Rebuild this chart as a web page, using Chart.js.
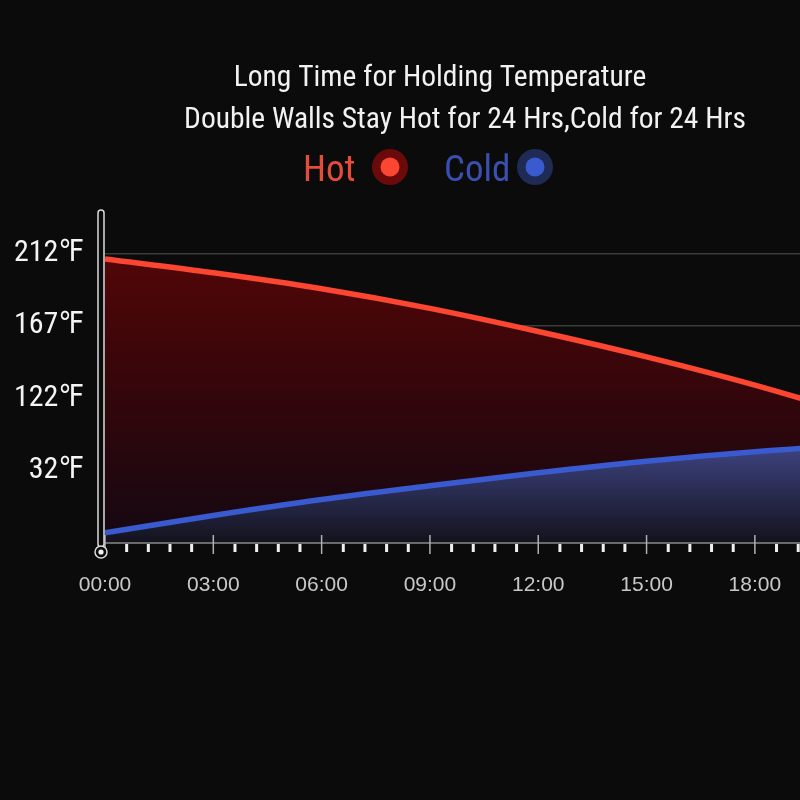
<!DOCTYPE html>
<html>
<head>
<meta charset="utf-8">
<script src="https://cdn.jsdelivr.net/npm/chart.js@4.4.1/dist/chart.umd.min.js"></script>
<style>
  html, body { margin: 0; padding: 0; background: #0b0b0b; overflow: hidden; }
  #wrap { width: 800px; height: 800px; }
</style>
</head>
<body>
<div id="wrap"><canvas id="chart" width="800" height="800"></canvas></div>
<script>
// time in minutes since 00:00
const times = [0, 180, 360, 540, 720, 900, 1080, 1260];
// values are positions on the (non linear) temperature axis, 0 = axis line
const hotValues = [3.92, 3.73, 3.51, 3.24, 2.92, 2.57, 2.18, 1.74];
const coldValues = [0.14, 0.38, 0.60, 0.79, 0.97, 1.13, 1.26, 1.36];
const yTickLabels = ['', '32℉', '122℉', '167℉', '212℉'];
const seriesNames = ['Hot', 'Cold'];
const titleText = 'Long Time for Holding Temperature';
const subtitleText = 'Double Walls Stay Hot for 24 Hrs,Cold for 24 Hrs';

const NARROW = '"Liberation Sans Narrow", "Roboto Condensed", "DejaVu Sans Condensed", sans-serif';
const BG = '#0b0b0b';

function pad(n) { return String(n).padStart(2, '0'); }

function hotFill(ctx) {
    const area = ctx.chart.chartArea;
    if (!area) return null;
    const g = ctx.chart.ctx.createLinearGradient(0, area.top, 0, area.bottom);
    g.addColorStop(0, '#5c0606');
    g.addColorStop(0.5, '#37060a');
    g.addColorStop(1, '#140812');
    return g;
}

function coldFill(ctx) {
    const area = ctx.chart.chartArea;
    if (!area) return null;
    const y = ctx.chart.scales.y;
    const g = ctx.chart.ctx.createLinearGradient(0, y.getPixelForValue(Math.max(...coldValues)), 0, area.bottom);
    g.addColorStop(0, 'rgba(62,68,130,1)');
    g.addColorStop(1, '#13121c');
    return g;
}

// titles and the "text + dot" legend
const headerPlugin = {
    id: 'header',
    afterDraw(chart) {
        const c = chart.ctx;
        c.save();
        c.fillStyle = '#f2f2f2';
        c.textAlign = 'center';
        c.textBaseline = 'alphabetic';
        c.font = '29.5px ' + NARROW;
        c.fillText(titleText, 440, 86);
        c.fillText(subtitleText, 465, 128);

        const legendPos = [{ x: 303, dot: 390 }, { x: 444, dot: 535 }];
        const textColors = ['#e44c3c', '#3a4fae'];
        const haloColors = ['#6b0a0a', '#1f2a55'];
        chart.data.datasets.forEach((ds, i) => {
            const p = legendPos[i];
            c.font = '37px ' + NARROW;
            c.textAlign = 'left';
            c.fillStyle = textColors[i];
            c.fillText(ds.label, p.x, 181);
            c.beginPath();
            c.arc(p.dot, 167, 18, 0, Math.PI * 2);
            c.fillStyle = haloColors[i];
            c.fill();
            c.beginPath();
            c.arc(p.dot, 167, 9.5, 0, Math.PI * 2);
            c.fillStyle = ds.borderColor;
            c.fill();
        });
        c.restore();
    }
};

// axis lines, tick marks and the rounded y axis bar
const axisPlugin = {
    id: 'axisDeco',
    afterDatasetsDraw(chart) {
        const c = chart.ctx;
        const area = chart.chartArea;
        const x = chart.scales.x;
        c.save();
        // x axis line
        c.strokeStyle = '#8a8a8a';
        c.lineWidth = 1.5;
        c.beginPath();
        c.moveTo(area.left, area.bottom);
        c.lineTo(area.right, area.bottom);
        c.stroke();
        // ticks
        x.ticks.forEach(t => {
            const px = x.getPixelForValue(t.value);
            if (t.value % 180 === 0) {
                c.strokeStyle = '#b0b0b0';
                c.lineWidth = 1.5;
                c.beginPath();
                c.moveTo(px, area.bottom - 8);
                c.lineTo(px, area.bottom + 11);
                c.stroke();
            } else {
                c.fillStyle = '#f0f0f0';
                c.fillRect(px - 1.5, area.bottom + 1, 3, 8);
            }
        });
        // y axis bar
        const bx = area.left - 4;
        c.fillStyle = BG;
        c.strokeStyle = '#dcdcdc';
        c.lineWidth = 1.5;
        c.beginPath();
        c.roundRect(bx - 3, area.top - 2, 6, area.bottom - area.top + 6, 3);
        c.fill();
        c.stroke();
        // circle at origin
        c.beginPath();
        c.arc(bx, area.bottom + 9, 6, 0, Math.PI * 2);
        c.fillStyle = BG;
        c.fill();
        c.stroke();
        c.beginPath();
        c.arc(bx, area.bottom + 9, 2.6, 0, Math.PI * 2);
        c.fillStyle = '#f0f0f0';
        c.fill();
        c.restore();
    }
};

const ctx = document.getElementById('chart').getContext('2d');

new Chart(ctx, {
    type: 'line',
    data: {
        datasets: [{
            label: seriesNames[0],
            data: times.map((t, i) => ({ x: t, y: hotValues[i] })),
            borderColor: '#fb4632',
            borderWidth: 5.5,
            backgroundColor: hotFill,
            fill: '+1',
            order: 1,
            pointRadius: 0,
            cubicInterpolationMode: 'monotone'
        }, {
            label: seriesNames[1],
            data: times.map((t, i) => ({ x: t, y: coldValues[i] })),
            borderColor: '#3a5ad0',
            borderWidth: 5.5,
            backgroundColor: coldFill,
            fill: 'origin',
            order: 0,
            pointRadius: 0,
            cubicInterpolationMode: 'monotone'
        }]
    },
    options: {
        responsive: false,
        animation: false,
        devicePixelRatio: 1,
        layout: { padding: { top: 212, right: 0, left: 0, bottom: 0 } },
        plugins: { legend: { display: false }, tooltip: { enabled: false }, title: { display: false } },
        scales: {
            x: {
                type: 'linear',
                min: 0,
                max: 1155,
                afterFit: s => { s.height = 257; s.paddingLeft = 0; s.paddingRight = 0; },
                grid: { display: false },
                border: { display: false },
                ticks: {
                    stepSize: 36,
                    autoSkip: false,
                    maxRotation: 0,
                    includeBounds: false,
                    padding: 22,
                    color: '#c8c8c8',
                    font: { family: '"Liberation Sans", Arial, sans-serif', size: 21 },
                    callback: v => (v % 180 === 0 ? pad(v / 60) + ':00' : '')
                }
            },
            y: {
                min: 0,
                max: 4.57,
                afterFit: s => { s.width = 105; },
                border: { display: false },
                grid: {
                    drawTicks: false,
                    color: c => (c.index === 0 ? 'rgba(0,0,0,0)' : 'rgba(255,255,255,0.2)'),
                    lineWidth: 1.5
                },
                ticks: {
                    stepSize: 1,
                    includeBounds: false,
                    padding: 21,
                    color: '#f4f4f4',
                    font: { family: NARROW, size: 30 },
                    callback: v => yTickLabels[v] ?? ''
                }
            }
        }
    },
    plugins: [axisPlugin, headerPlugin]
});
</script>
</body>
</html>
